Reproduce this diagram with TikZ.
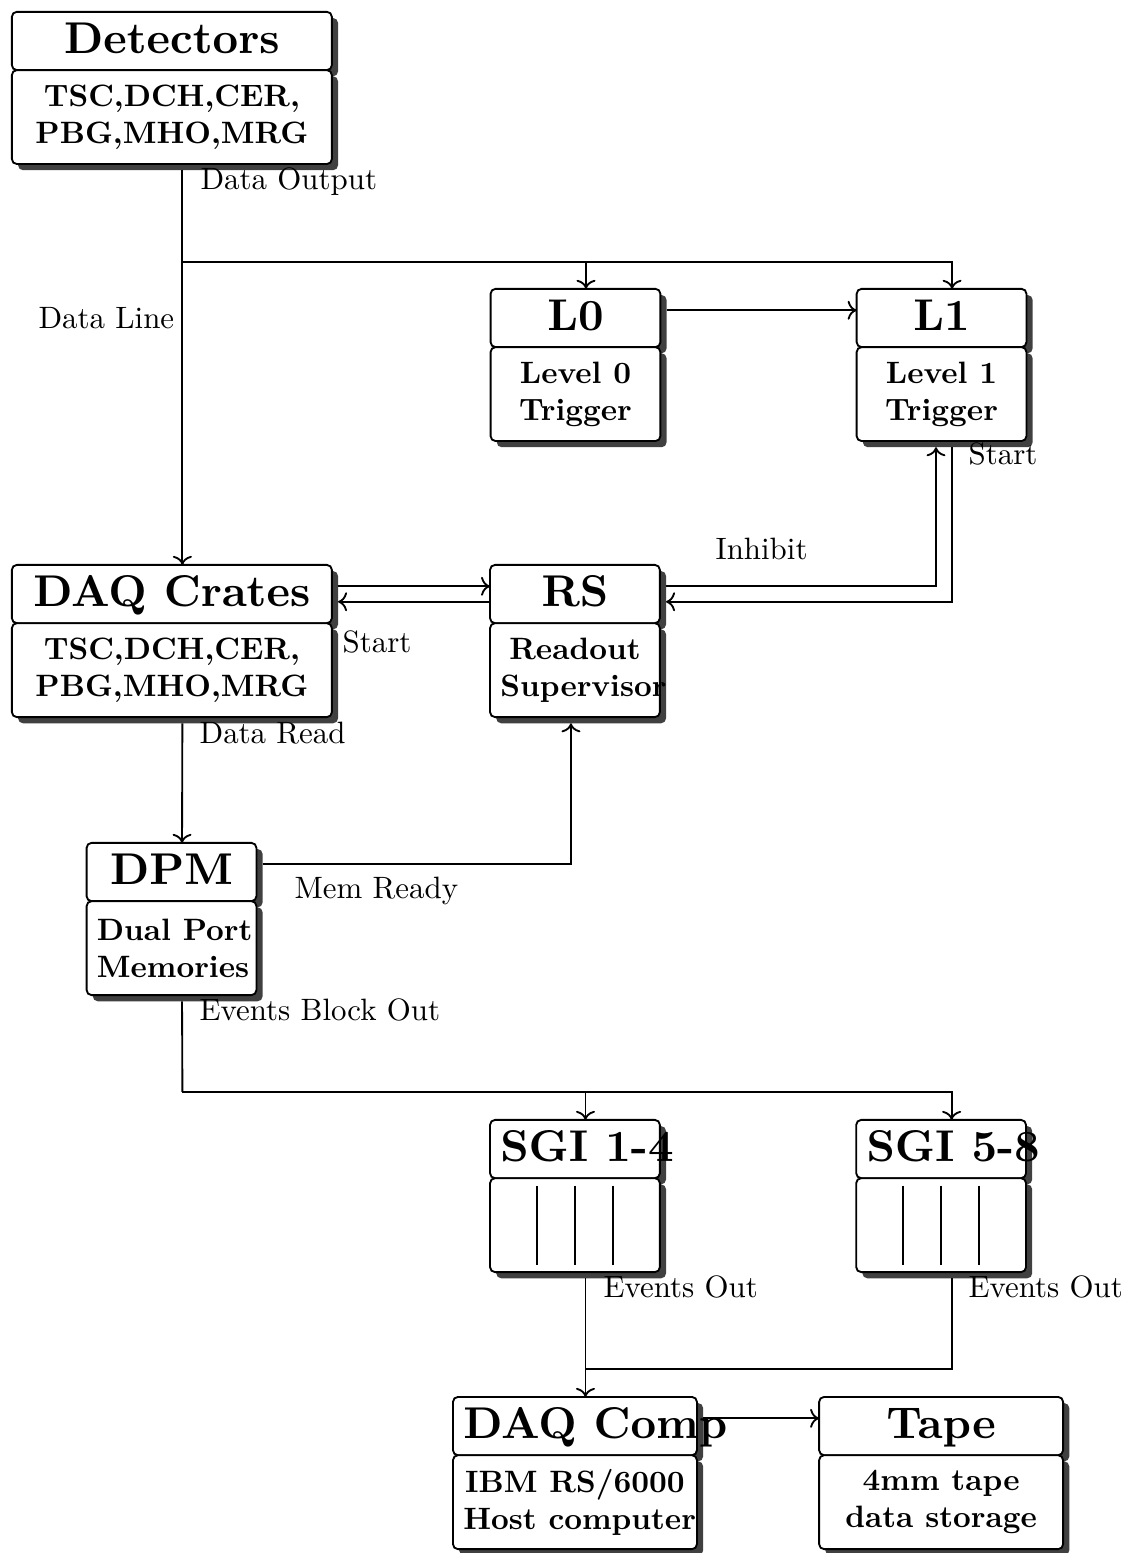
\documentclass[tikz,border=0pt]{standalone}
\usepackage{tikz}
\usetikzlibrary{arrows.meta,positioning,shadows}

\font\headfont=cmbx10 at 14.4pt

\tikzset{
  unitbox/.style={draw, semithick, fill=white, rounded corners=1.6pt,
    outer sep=0pt, inner sep=3.33pt, align=flush center,
    execute at begin node={\hyphenpenalty=10000 \exhyphenpenalty=10000 },
    drop shadow={shadow xshift=2pt, shadow yshift=-2pt, fill=black!75, opacity=1}},
  headbox/.style={unitbox, font=\headfont, minimum height=18.8pt,
    text height=10pt, text depth=2.2pt},
  infobox/.style={unitbox, font=\bfseries, minimum height=30.4pt},
  wide/.style={text width=96.9pt},
  narrow/.style={text width=48.3pt},
  medium/.style={text width=72.3pt},
  lbl/.style={anchor=base west, inner sep=0pt},
  link/.style={line width=0.6pt}
}

\begin{document}
\begin{tikzpicture}[>=To]
  \useasboundingbox (0,0) rectangle (12.842,-17.665);

  % units
  \node[headbox,wide] (det) at (1.955,-0.466) {Detectors};
  \node[infobox,wide,below=0pt of det] (detl) {TSC,DCH,CER,\\PBG,MHO,MRG};
  \node[headbox,narrow] (lz) at (6.546,-3.617) {L0};
  \node[infobox,narrow,below=0pt of lz] (lzl) {Level 0\\Trigger};
  \node[headbox,narrow] (lo) at (10.710,-3.617) {L1};
  \node[infobox,narrow,below=0pt of lo] (lol) {Level 1\\Trigger};
  \node[headbox,wide] (daq) at (1.955,-6.757) {DAQ Crates};
  \node[infobox,wide,below=0pt of daq] (daql) {TSC,DCH,CER,\\PBG,MHO,MRG};
  \node[headbox,narrow] (rs) at (6.540,-6.757) {RS};
  \node[infobox,narrow,below=0pt of rs] (rsl) {Readout\\Supervisor};
  \node[headbox,narrow] (dpm) at (1.951,-9.919) {DPM};
  \node[infobox,narrow,below=0pt of dpm] (dpml) {\mbox{Dual Port}\\Memories};
  \node[headbox,narrow] (sga) at (6.540,-13.070) {\mbox{SGI 1-4}};
  \node[infobox,narrow,below=0pt of sga] (sgal) {};
  \node[headbox,narrow] (sgb) at (10.705,-13.070) {\mbox{SGI 5-8}};
  \node[infobox,narrow,below=0pt of sgb] (sgbl) {};
  \node[headbox,medium] (comp) at (6.540,-16.221) {\mbox{DAQ Comp}};
  \node[infobox,medium,below=0pt of comp] (compl) {IBM RS/6000\\\mbox{Host computer}};
  \node[headbox,medium] (tape) at (10.705,-16.221) {Tape};
  \node[infobox,medium,below=0pt of tape] (tapel) {4mm tape\\data storage};

  % processor slots
  \foreach \sg in {sgal,sgbl}
    \foreach \dx in {-12.3,0,12.3}
      \draw[semithick] ([xshift=\dx pt,yshift=12.8pt]\sg.center)
        -- ([xshift=\dx pt,yshift=-12.8pt]\sg.center);

  % data path
  \draw[link,->] ([xshift=3.4pt,yshift=-2pt]detl.south) -- ([xshift=3.4pt]daq.north);
  \coordinate (dsplit) at (2.075,-2.98);
  \draw[link,->] (dsplit) -| ([xshift=3.4pt]lz.north);
  \draw[link,->] (dsplit) -| ([xshift=3.4pt]lo.north);
  \draw[link,->] ([xshift=2pt,yshift=2.5pt]lz.east) -- ([yshift=2.5pt]lo.west);
  \draw[link,->] ([xshift=2pt,yshift=2.5pt]daq.east) -- ([yshift=2.5pt]rs.west);
  \draw[link,->] ([yshift=-2.5pt]rs.west) -- ([xshift=2pt,yshift=-2.5pt]daq.east);
  \draw[link,->] ([xshift=2pt,yshift=2.5pt]rs.east) -| ([xshift=-1.8pt,yshift=-2pt]lol.south);
  \draw[link,->] ([xshift=3.4pt,yshift=-2pt]lol.south) |- ([xshift=2pt,yshift=-2.5pt]rs.east);
  \draw[link,->] ([xshift=3.4pt,yshift=-2pt]daql.south) -- ([xshift=3.4pt]dpm.north);
  \draw[link,->] ([xshift=2pt,yshift=2.5pt]dpm.east) -| ([xshift=-1.3pt,yshift=-2pt]rsl.south);
  \coordinate (msplit) at (2.075,-12.42);
  \draw[link] ([xshift=3.4pt,yshift=-2pt]dpml.south) -- (msplit);
  \draw[link,->] (msplit) -| ([xshift=3.4pt]sga.north);
  \draw[link,->] (msplit) -| ([xshift=3.4pt]sgb.north);
  \draw[link,->] ([xshift=3.4pt,yshift=-2pt]sgal.south) -- ([xshift=3.4pt]comp.north);
  \coordinate (sjoin) at (6.66,-15.573);
  \draw[link] ([xshift=3.4pt,yshift=-2pt]sgbl.south) |- (sjoin);
  \draw[link,->] ([xshift=2pt,yshift=2.5pt]comp.east) -- ([yshift=2.5pt]tape.west);

  % signal names
  \node[lbl] (dout) at (2.275,-2.161) {Data Output};
  \node[lbl] (dline) at (0.432,-3.731) {Data Line};
  \node[lbl] (inh) at (8.133,-6.359) {Inhibit};
  \node[lbl] (startl) at (11.011,-5.289) {Start};
  \node[lbl] (startd) at (3.890,-7.417) {Start};
  \node[lbl] (dread) at (2.264,-8.452) {Data Read};
  \node[lbl] (mready) at (3.344,-10.215) {Mem Ready};
  \node[lbl] (ebout) at (2.264,-11.603) {Events Block Out};
  \node[lbl] (eouta) at (6.859,-14.753) {Events Out};
  \node[lbl] (eoutb) at (11.011,-14.753) {Events Out};
\end{tikzpicture}
\end{document}
